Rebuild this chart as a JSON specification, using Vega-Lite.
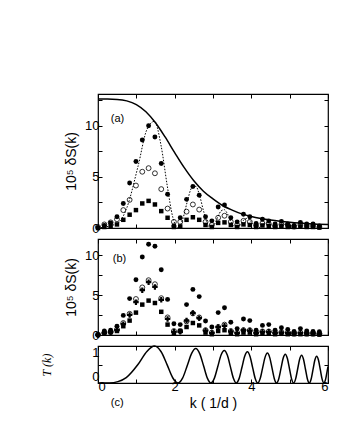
{
"$schema":"https://vega.github.io/schema/vega-lite/v6.json",
"background":"white",
"padding":{"left":40,"top":92,"right":5,"bottom":5},
"bounds":"flush",
"spacing":11,
"config":{"view":{"stroke":"black","strokeWidth":1.2},
"axis":{"domain":false,"grid":false,"tickColor":"black","tickSize":-4,"tickWidth":1,"labelColor":"black","titleColor":"black","labelFont":"Liberation Sans","titleFont":"Liberation Sans","labelFontSize":13,"titleFontSize":14,"titleFontWeight":"normal","labelPadding":3}},
"datasets":{
"solidA":[{"k":0,"v":12.6},{"k":0.25,"v":12.6},{"k":0.5,"v":12.57},{"k":0.75,"v":12.43},{"k":1.0,"v":12.07},{"k":1.25,"v":11.37},{"k":1.5,"v":10.29},{"k":1.75,"v":8.9},{"k":2.0,"v":7.37},{"k":2.25,"v":5.9},{"k":2.5,"v":4.62},{"k":2.75,"v":3.6},{"k":3.0,"v":2.85},{"k":3.25,"v":2.2},{"k":3.5,"v":1.75},{"k":3.75,"v":1.38},{"k":4.0,"v":1.12},{"k":4.25,"v":0.93},{"k":4.5,"v":0.78},{"k":4.75,"v":0.66},{"k":5.0,"v":0.56},{"k":5.25,"v":0.48},{"k":5.5,"v":0.42},{"k":5.75,"v":0.37},{"k":6.0,"v":0.33}],
"dotA":[{"k":0,"v":0},{"k":0.5208,"v":0.48},{"k":0.7366,"v":1.82},{"k":1.0416,"v":5.99},{"k":1.2757,"v":9.63},{"k":1.4731,"v":10.43},{"k":1.647,"v":8.02},{"k":1.8042,"v":4.19},{"k":1.9487,"v":1.09},{"k":2.0833,"v":0},{"k":2.2096,"v":0.85},{"k":2.3292,"v":2.58},{"k":2.4428,"v":3.91},{"k":2.5515,"v":4.07},{"k":2.6557,"v":3.1},{"k":2.7559,"v":1.62},{"k":2.8526,"v":0.43},{"k":2.9462,"v":0},{"k":3.0369,"v":0.35},{"k":3.1249,"v":1.08},{"k":3.2105,"v":1.67},{"k":3.2939,"v":1.79},{"k":3.3753,"v":1.4},{"k":3.4547,"v":0.75},{"k":3.5323,"v":0.2},{"k":3.6083,"v":0},{"k":3.6827,"v":0.17},{"k":3.7557,"v":0.55},{"k":3.8272,"v":0.87},{"k":3.8974,"v":0.95},{"k":3.9664,"v":0.75},{"k":4.0342,"v":0.41},{"k":4.1009,"v":0.11},{"k":4.1665,"v":0},{"k":4.2311,"v":0.1},{"k":4.2948,"v":0.32},{"k":4.3575,"v":0.51},{"k":4.4193,"v":0.57},{"k":4.4803,"v":0.46},{"k":4.5404,"v":0.25},{"k":4.5997,"v":0.07},{"k":4.6583,"v":0},{"k":4.7162,"v":0.06},{"k":4.7734,"v":0.21},{"k":4.8299,"v":0.33},{"k":4.8857,"v":0.37},{"k":4.9409,"v":0.3},{"k":4.9955,"v":0.17},{"k":5.0495,"v":0.05},{"k":5.1029,"v":0}],
"T":[{"k":0,"v":0},{"k":0.3,"v":0.002},{"k":0.5208,"v":0.038},{"k":0.7366,"v":0.146},{"k":1.0416,"v":0.5},{"k":1.2757,"v":0.854},{"k":1.4731,"v":1.0},{"k":1.647,"v":0.844},{"k":1.8042,"v":0.489},{"k":1.9487,"v":0.142},{"k":2.0833,"v":0},{"k":2.2096,"v":0.139},{"k":2.3292,"v":0.472},{"k":2.4428,"v":0.8},{"k":2.5515,"v":0.93},{"k":2.6557,"v":0.788},{"k":2.7559,"v":0.458},{"k":2.8526,"v":0.133},{"k":2.9462,"v":0},{"k":3.0369,"v":0.131},{"k":3.1249,"v":0.446},{"k":3.2105,"v":0.757},{"k":3.2939,"v":0.881},{"k":3.3753,"v":0.748},{"k":3.4547,"v":0.435},{"k":3.5323,"v":0.127},{"k":3.6083,"v":0},{"k":3.6827,"v":0.125},{"k":3.7557,"v":0.426},{"k":3.8272,"v":0.723},{"k":3.8974,"v":0.842},{"k":3.9664,"v":0.715},{"k":4.0342,"v":0.417},{"k":4.1009,"v":0.121},{"k":4.1665,"v":0},{"k":4.2311,"v":0.12},{"k":4.2948,"v":0.408},{"k":4.3575,"v":0.693},{"k":4.4193,"v":0.808},{"k":4.4803,"v":0.686},{"k":4.5404,"v":0.4},{"k":4.5997,"v":0.117},{"k":4.6583,"v":0},{"k":4.7162,"v":0.116},{"k":4.7734,"v":0.393},{"k":4.8299,"v":0.667},{"k":4.8857,"v":0.778},{"k":4.9409,"v":0.661},{"k":4.9955,"v":0.385},{"k":5.0495,"v":0.112},{"k":5.1029,"v":0},{"k":5.1558,"v":0.111},{"k":5.2082,"v":0.378},{"k":5.26,"v":0.643},{"k":5.3113,"v":0.75},{"k":5.3622,"v":0.637},{"k":5.4125,"v":0.372},{"k":5.4624,"v":0.108},{"k":5.5118,"v":0},{"k":5.5608,"v":0.107},{"k":5.6094,"v":0.366},{"k":5.6575,"v":0.621},{"k":5.7053,"v":0.725},{"k":5.7526,"v":0.616},{"k":5.7996,"v":0.36},{"k":5.8462,"v":0.105},{"k":5.8924,"v":0},{"k":5.9382,"v":0.104},{"k":5.9837,"v":0.354},{"k":6,"v":0.44}],
"ptsA":[
{"k":0,"s":"f","v":0},{"k":0,"s":"o","v":0.1},{"k":0,"s":"q","v":0},
{"k":0.165,"s":"f","v":0.25},{"k":0.165,"s":"o","v":0.35},{"k":0.165,"s":"q","v":0.1},
{"k":0.33,"s":"f","v":0.5},{"k":0.33,"s":"o","v":0.55},{"k":0.33,"s":"q","v":0.15},
{"k":0.495,"s":"f","v":1.1},{"k":0.495,"s":"o","v":0.85},{"k":0.495,"s":"q","v":0.35},
{"k":0.66,"s":"f","v":2.4},{"k":0.66,"s":"o","v":1.75},{"k":0.66,"s":"q","v":0.8},
{"k":0.825,"s":"f","v":4.4},{"k":0.825,"s":"o","v":2.75},{"k":0.825,"s":"q","v":1.3},
{"k":0.99,"s":"f","v":6.5},{"k":0.99,"s":"o","v":4.15},{"k":0.99,"s":"q","v":1.75},
{"k":1.155,"s":"f","v":8.6},{"k":1.155,"s":"o","v":5.5},{"k":1.155,"s":"q","v":2.4},
{"k":1.32,"s":"f","v":10.0},{"k":1.32,"s":"o","v":5.85},{"k":1.32,"s":"q","v":2.65},
{"k":1.485,"s":"f","v":8.9},{"k":1.485,"s":"o","v":5.35},{"k":1.485,"s":"q","v":2.3},
{"k":1.65,"s":"f","v":6.3},{"k":1.65,"s":"o","v":3.8},{"k":1.65,"s":"q","v":1.65},
{"k":1.815,"s":"f","v":3.3},{"k":1.815,"s":"o","v":1.9},{"k":1.815,"s":"q","v":1.0},
{"k":1.98,"s":"f","v":0.2},{"k":1.98,"s":"o","v":0.6},{"k":1.98,"s":"q","v":0.1},
{"k":2.145,"s":"f","v":1.0},{"k":2.145,"s":"o","v":0.6},{"k":2.145,"s":"q","v":0.15},
{"k":2.31,"s":"f","v":2.8},{"k":2.31,"s":"o","v":1.6},{"k":2.31,"s":"q","v":0.8},
{"k":2.475,"s":"f","v":4.05},{"k":2.475,"s":"o","v":2.3},{"k":2.475,"s":"q","v":1.05},
{"k":2.64,"s":"f","v":3.2},{"k":2.64,"s":"o","v":1.8},{"k":2.64,"s":"q","v":0.8},
{"k":2.805,"s":"f","v":1.1},{"k":2.805,"s":"o","v":0.6},{"k":2.805,"s":"q","v":0.3},
{"k":2.97,"s":"f","v":0.7},{"k":2.97,"s":"o","v":0.3},{"k":2.97,"s":"q","v":0.1},
{"k":3.135,"s":"f","v":2.05},{"k":3.135,"s":"o","v":1.0},{"k":3.135,"s":"q","v":0.5},
{"k":3.3,"s":"f","v":2.25},{"k":3.3,"s":"o","v":1.2},{"k":3.3,"s":"q","v":0.55},
{"k":3.465,"s":"f","v":1.0},{"k":3.465,"s":"o","v":0.6},{"k":3.465,"s":"q","v":0.3},
{"k":3.63,"s":"f","v":0.6},{"k":3.63,"s":"o","v":0.3},{"k":3.63,"s":"q","v":0.1},
{"k":3.795,"s":"f","v":1.35},{"k":3.795,"s":"o","v":0.7},{"k":3.795,"s":"q","v":0.35},
{"k":3.96,"s":"f","v":1.1},{"k":3.96,"s":"o","v":0.6},{"k":3.96,"s":"q","v":0.3},
{"k":4.125,"s":"f","v":0.45},{"k":4.125,"s":"o","v":0.25},{"k":4.125,"s":"q","v":0.1},
{"k":4.29,"s":"f","v":0.85},{"k":4.29,"s":"o","v":0.45},{"k":4.29,"s":"q","v":0.25},
{"k":4.455,"s":"f","v":0.7},{"k":4.455,"s":"o","v":0.4},{"k":4.455,"s":"q","v":0.2},
{"k":4.62,"s":"f","v":0.4},{"k":4.62,"s":"o","v":0.2},{"k":4.62,"s":"q","v":0.1},
{"k":4.785,"s":"f","v":0.65},{"k":4.785,"s":"o","v":0.35},{"k":4.785,"s":"q","v":0.2},
{"k":4.95,"s":"f","v":0.4},{"k":4.95,"s":"o","v":0.3},{"k":4.95,"s":"q","v":0.1},
{"k":5.115,"s":"f","v":0.25},{"k":5.115,"s":"o","v":0.15},{"k":5.115,"s":"q","v":0.1},
{"k":5.28,"s":"f","v":0.55},{"k":5.28,"s":"o","v":0.3},{"k":5.28,"s":"q","v":0.15},
{"k":5.445,"s":"f","v":0.4},{"k":5.445,"s":"o","v":0.2},{"k":5.445,"s":"q","v":0.1},
{"k":5.61,"s":"f","v":0.4},{"k":5.61,"s":"o","v":0.2},{"k":5.61,"s":"q","v":0.1},
{"k":5.775,"s":"f","v":0.2},{"k":5.775,"s":"o","v":0.1},{"k":5.775,"s":"q","v":0.05}],
"ptsB":[
{"k":0,"s":"f","v":0},{"k":0,"s":"o","v":0.05},{"k":0,"s":"c","v":0},{"k":0,"s":"q","v":0},
{"k":0.165,"s":"f","v":0.5},{"k":0.165,"s":"o","v":0.3},{"k":0.165,"s":"c","v":0.25},{"k":0.165,"s":"q","v":0.3},
{"k":0.33,"s":"f","v":0.6},{"k":0.33,"s":"o","v":0.4},{"k":0.33,"s":"c","v":0.35},{"k":0.33,"s":"q","v":0.35},
{"k":0.495,"s":"f","v":1.1},{"k":0.495,"s":"o","v":0.7},{"k":0.495,"s":"c","v":0.6},{"k":0.495,"s":"q","v":0.5},
{"k":0.66,"s":"f","v":2.45},{"k":0.66,"s":"o","v":1.5},{"k":0.66,"s":"c","v":1.35},{"k":0.66,"s":"q","v":1.1},
{"k":0.825,"s":"f","v":4.55},{"k":0.825,"s":"o","v":2.65},{"k":0.825,"s":"c","v":2.5},{"k":0.825,"s":"q","v":1.8},
{"k":0.99,"s":"f","v":6.9},{"k":0.99,"s":"o","v":4.5},{"k":0.99,"s":"c","v":4.1},{"k":0.99,"s":"q","v":2.8},
{"k":1.155,"s":"f","v":9.75},{"k":1.155,"s":"o","v":5.95},{"k":1.155,"s":"c","v":5.6},{"k":1.155,"s":"q","v":3.8},
{"k":1.32,"s":"f","v":11.35},{"k":1.32,"s":"o","v":6.85},{"k":1.32,"s":"c","v":6.6},{"k":1.32,"s":"q","v":4.3},
{"k":1.485,"s":"f","v":11.1},{"k":1.485,"s":"o","v":6.35},{"k":1.485,"s":"c","v":6.0},{"k":1.485,"s":"q","v":4.0},
{"k":1.65,"s":"f","v":8.15},{"k":1.65,"s":"o","v":4.6},{"k":1.65,"s":"c","v":4.4},{"k":1.65,"s":"q","v":2.9},
{"k":1.815,"s":"f","v":4.45},{"k":1.815,"s":"o","v":2.2},{"k":1.815,"s":"c","v":2.0},{"k":1.815,"s":"q","v":1.3},
{"k":1.98,"s":"f","v":1.4},{"k":1.98,"s":"o","v":0.5},{"k":1.98,"s":"c","v":0.4},{"k":1.98,"s":"q","v":0.2},
{"k":2.145,"s":"f","v":1.3},{"k":2.145,"s":"o","v":0.5},{"k":2.145,"s":"c","v":0.4},{"k":2.145,"s":"q","v":0.5},
{"k":2.31,"s":"f","v":3.8},{"k":2.31,"s":"o","v":1.7},{"k":2.31,"s":"c","v":1.8},{"k":2.31,"s":"q","v":1.0},
{"k":2.475,"s":"f","v":5.7},{"k":2.475,"s":"o","v":2.7},{"k":2.475,"s":"c","v":2.75},{"k":2.475,"s":"q","v":1.5},
{"k":2.64,"s":"f","v":4.8},{"k":2.64,"s":"o","v":2.2},{"k":2.64,"s":"c","v":2.1},{"k":2.64,"s":"q","v":1.2},
{"k":2.805,"s":"f","v":1.75},{"k":2.805,"s":"o","v":0.6},{"k":2.805,"s":"c","v":0.55},{"k":2.805,"s":"q","v":0.3},
{"k":2.97,"s":"f","v":1.0},{"k":2.97,"s":"o","v":0.3},{"k":2.97,"s":"c","v":0.25},{"k":2.97,"s":"q","v":0.1},
{"k":3.135,"s":"f","v":2.8},{"k":3.135,"s":"o","v":1.0},{"k":3.135,"s":"c","v":1.0},{"k":3.135,"s":"q","v":0.5},
{"k":3.3,"s":"f","v":3.4},{"k":3.3,"s":"o","v":1.3},{"k":3.3,"s":"c","v":1.15},{"k":3.3,"s":"q","v":0.6},
{"k":3.465,"s":"f","v":1.6},{"k":3.465,"s":"o","v":0.5},{"k":3.465,"s":"c","v":0.45},{"k":3.465,"s":"q","v":0.2},
{"k":3.63,"s":"f","v":0.8},{"k":3.63,"s":"o","v":0.3},{"k":3.63,"s":"c","v":0.25},{"k":3.63,"s":"q","v":0.1},
{"k":3.795,"s":"f","v":2.0},{"k":3.795,"s":"o","v":0.6},{"k":3.795,"s":"c","v":0.6},{"k":3.795,"s":"q","v":0.3},
{"k":3.96,"s":"f","v":1.8},{"k":3.96,"s":"o","v":0.6},{"k":3.96,"s":"c","v":0.55},{"k":3.96,"s":"q","v":0.3},
{"k":4.125,"s":"f","v":0.6},{"k":4.125,"s":"o","v":0.3},{"k":4.125,"s":"c","v":0.25},{"k":4.125,"s":"q","v":0.1},
{"k":4.29,"s":"f","v":1.2},{"k":4.29,"s":"o","v":0.45},{"k":4.29,"s":"c","v":0.4},{"k":4.29,"s":"q","v":0.2},
{"k":4.455,"s":"f","v":1.3},{"k":4.455,"s":"o","v":0.45},{"k":4.455,"s":"c","v":0.4},{"k":4.455,"s":"q","v":0.2},
{"k":4.62,"s":"f","v":0.6},{"k":4.62,"s":"o","v":0.3},{"k":4.62,"s":"c","v":0.25},{"k":4.62,"s":"q","v":0.1},
{"k":4.785,"s":"f","v":0.9},{"k":4.785,"s":"o","v":0.35},{"k":4.785,"s":"c","v":0.3},{"k":4.785,"s":"q","v":0.15},
{"k":4.95,"s":"f","v":0.7},{"k":4.95,"s":"o","v":0.3},{"k":4.95,"s":"c","v":0.25},{"k":4.95,"s":"q","v":0.1},
{"k":5.115,"s":"f","v":0.45},{"k":5.115,"s":"o","v":0.25},{"k":5.115,"s":"c","v":0.2},{"k":5.115,"s":"q","v":0.1},
{"k":5.28,"s":"f","v":0.8},{"k":5.28,"s":"o","v":0.3},{"k":5.28,"s":"c","v":0.25},{"k":5.28,"s":"q","v":0.1},
{"k":5.445,"s":"f","v":0.5},{"k":5.445,"s":"o","v":0.25},{"k":5.445,"s":"c","v":0.2},{"k":5.445,"s":"q","v":0.1},
{"k":5.61,"s":"f","v":0.45},{"k":5.61,"s":"o","v":0.25},{"k":5.61,"s":"c","v":0.2},{"k":5.61,"s":"q","v":0.1},
{"k":5.775,"s":"f","v":0.4},{"k":5.775,"s":"o","v":0.2},{"k":5.775,"s":"c","v":0.15},{"k":5.775,"s":"q","v":0.05}],
"labA":[{"k":0.51,"v":10.64,"t":"(a)"}],
"labB":[{"k":0.56,"v":9.5,"t":"(b)"}],
"labC":[{"k":0.5,"v":-0.55,"t":"(c)"}]
},
"vconcat":[
{"width":230,"height":134,
 "resolve":{"axis":{"x":"independent","y":"independent"}},
 "layer":[
 {"data":{"name":"solidA"},"mark":{"type":"line","color":"black","strokeWidth":1.5,"interpolate":"monotone"},
  "encoding":{"x":{"field":"k","type":"quantitative","scale":{"domain":[0,6],"nice":false},"axis":{"orient":"bottom","values":[0,1,2,3,4,5,6],"labels":false,"title":null}},
   "y":{"field":"v","type":"quantitative","scale":{"domain":[0,13.1],"nice":false},"axis":{"orient":"left","values":[0,2.5,5,7.5,10,12.5],"labelExpr":"datum.value % 5 == 0 ? datum.label : ''","title":"10⁵ δS(k)","titlePadding":6}}}},
 {"data":{"name":"dotA"},"mark":{"type":"line","color":"black","strokeWidth":1,"strokeDash":[1.5,1.5],"interpolate":"monotone"},
  "encoding":{"x":{"field":"k","type":"quantitative","axis":{"orient":"top","values":[0,1,2,3,4,5,6],"labels":false,"title":null}},
   "y":{"field":"v","type":"quantitative","axis":{"orient":"right","values":[0,2.5,5,7.5,10,12.5],"labels":false,"title":null}}}},
 {"data":{"name":"ptsA"},"transform":[{"filter":"datum.s == 'q'"}],"mark":{"type":"point","shape":"square","filled":true,"color":"black","size":20,"opacity":1},
  "encoding":{"x":{"field":"k","type":"quantitative","axis":null},"y":{"field":"v","type":"quantitative","axis":null}}},
 {"data":{"name":"ptsA"},"transform":[{"filter":"datum.s == 'o'"}],"mark":{"type":"point","shape":"circle","filled":false,"color":"black","strokeWidth":0.8,"size":24,"opacity":1},
  "encoding":{"x":{"field":"k","type":"quantitative","axis":null},"y":{"field":"v","type":"quantitative","axis":null}}},
 {"data":{"name":"ptsA"},"transform":[{"filter":"datum.s == 'f'"}],"mark":{"type":"point","shape":"circle","filled":true,"color":"black","size":24,"opacity":1},
  "encoding":{"x":{"field":"k","type":"quantitative","axis":null},"y":{"field":"v","type":"quantitative","axis":null}}},
 {"data":{"name":"labA"},"mark":{"type":"text","font":"Liberation Sans","fontSize":11,"color":"black"},
  "encoding":{"x":{"field":"k","type":"quantitative","axis":null},"y":{"field":"v","type":"quantitative","axis":null},"text":{"field":"t"}}}
 ]},
{"width":230,"height":96,
 "resolve":{"axis":{"x":"independent","y":"independent"}},
 "layer":[
 {"data":{"name":"ptsB"},"transform":[{"filter":"datum.s == 'q'"}],"mark":{"type":"point","shape":"square","filled":true,"color":"black","size":20,"opacity":1},
  "encoding":{"x":{"field":"k","type":"quantitative","scale":{"domain":[0,6],"nice":false},"axis":{"orient":"bottom","values":[0,1,2,3,4,5,6],"labels":false,"title":null}},
   "y":{"field":"v","type":"quantitative","scale":{"domain":[0,12],"nice":false},"axis":{"orient":"left","values":[0,2.5,5,7.5,10],"labelExpr":"datum.value % 5 == 0 ? datum.label : ''","title":"10⁵ δS(k)","titlePadding":6}}}},
 {"data":{"name":"ptsB"},"transform":[{"filter":"datum.s == 'c'"}],"mark":{"type":"point","shape":"cross","filled":true,"color":"black","size":30,"opacity":1},
  "encoding":{"x":{"field":"k","type":"quantitative","axis":{"orient":"top","values":[0,1,2,3,4,5,6],"labels":false,"title":null}},
   "y":{"field":"v","type":"quantitative","axis":{"orient":"right","values":[0,2.5,5,7.5,10],"labels":false,"title":null}}}},
 {"data":{"name":"ptsB"},"transform":[{"filter":"datum.s == 'o'"}],"mark":{"type":"point","shape":"circle","filled":false,"color":"black","strokeWidth":0.8,"size":24,"opacity":1},
  "encoding":{"x":{"field":"k","type":"quantitative","axis":null},"y":{"field":"v","type":"quantitative","axis":null}}},
 {"data":{"name":"ptsB"},"transform":[{"filter":"datum.s == 'f'"}],"mark":{"type":"point","shape":"circle","filled":true,"color":"black","size":24,"opacity":1},
  "encoding":{"x":{"field":"k","type":"quantitative","axis":null},"y":{"field":"v","type":"quantitative","axis":null}}},
 {"data":{"name":"labB"},"mark":{"type":"text","font":"Liberation Sans","fontSize":11,"color":"black"},
  "encoding":{"x":{"field":"k","type":"quantitative","axis":null},"y":{"field":"v","type":"quantitative","axis":null},"text":{"field":"t"}}}
 ]},
{"width":230,"height":37,
 "resolve":{"axis":{"x":"independent","y":"independent"}},
 "layer":[
 {"data":{"name":"T"},"mark":{"type":"line","color":"black","strokeWidth":1.5,"interpolate":"monotone"},
  "encoding":{"x":{"field":"k","type":"quantitative","scale":{"domain":[0,6],"nice":false},"axis":{"orient":"bottom","values":[0,1,2,3,4,5,6],"labelExpr":"datum.value % 2 == 0 ? datum.label : ''","labelPadding":1,"title":"k ( 1/d )","titlePadding":3}},
   "y":{"field":"v","type":"quantitative","scale":{"domain":[0,1],"nice":false},"axis":{"orient":"left","values":[0,0.5,1],"labelFlush":true,"labelExpr":"datum.value == 0 ? '0' : (datum.value == 1 ? '1' : '')","title":"T (k)","titleFont":"Liberation Serif","titleFontStyle":"italic","titleFontSize":12,"titlePadding":38}}}},
 {"data":{"name":"T"},"mark":{"type":"line","color":"black","strokeWidth":0,"opacity":0},
  "encoding":{"x":{"field":"k","type":"quantitative","axis":{"orient":"top","values":[0,1,2,3,4,5,6],"labels":false,"title":null}},
   "y":{"field":"v","type":"quantitative","axis":{"orient":"right","values":[0,0.5,1],"labels":false,"title":null}}}},
 {"data":{"name":"labC"},"mark":{"type":"text","font":"Liberation Sans","fontSize":11,"color":"black"},
  "encoding":{"x":{"field":"k","type":"quantitative","axis":null},"y":{"field":"v","type":"quantitative","axis":null},"text":{"field":"t"}}}
 ]}
]
}
